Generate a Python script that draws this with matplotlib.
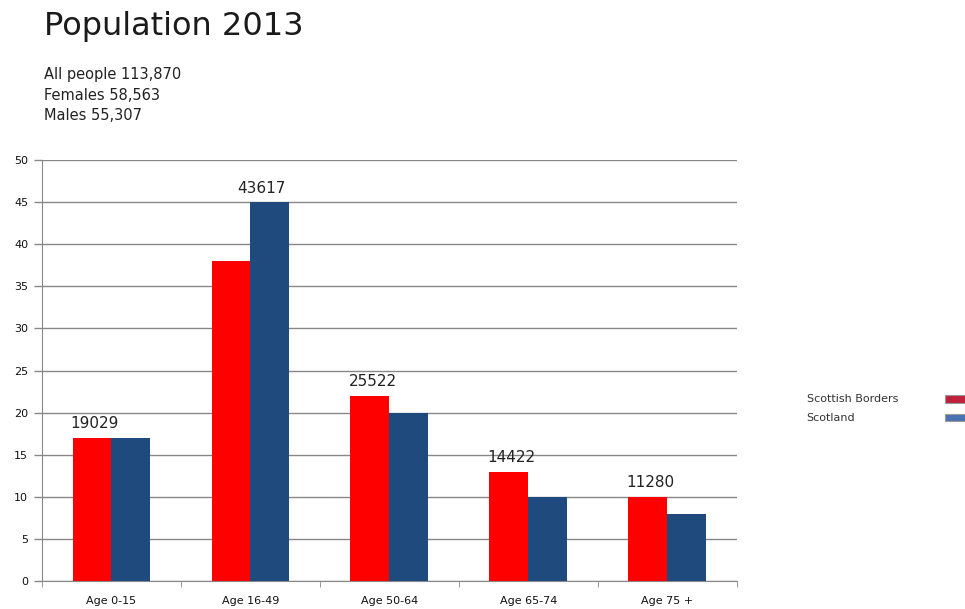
import matplotlib.pyplot as plt
from matplotlib.patches import Rectangle
import numpy as np

# population share by age band (%)
categories = ['Age 0-15', 'Age 16-49', 'Age 50-64', 'Age 65-74', 'Age 75 +']
borders_pct = [17, 38, 22, 13, 10]
scotland_pct = [17, 45, 20, 10, 8]
borders_counts = ['19029', '43617', '25522', '14422', '11280']
series_names = ['Scottish Borders', 'Scotland']
summary_lines = ['All people 113,870', 'Females 58,563', 'Males 55,307']

red = '#ff0000'
blue = '#1f4a7e'

fig = plt.figure(figsize=(9.65, 6.09), dpi=100)
ax = fig.add_axes([0.0435, 0.046, 0.72, 0.691])

x = np.arange(len(categories))
w = 0.28
ax.bar(x - w / 2, borders_pct, w, color=red, zorder=3)
ax.bar(x + w / 2, scotland_pct, w, color=blue, zorder=3)

# count labels sit above the taller bar of each group
for i, txt in enumerate(borders_counts):
    if scotland_pct[i] > borders_pct[i]:
        xpos, top = x[i] + w / 2 - 0.06, scotland_pct[i]
    else:
        xpos, top = x[i] - w / 2 + 0.02, borders_pct[i]
    ax.text(xpos, top + 0.8, txt, ha='center', va='bottom', fontsize=11,
            color='#222222')

ax.set_xlim(-0.5, len(categories) - 0.5)
ax.set_ylim(0, 50)
ax.set_yticks(np.arange(0, 51, 5))
ax.yaxis.grid(True, color='#888888', linewidth=1.0, zorder=0)
ax.set_axisbelow(True)
ax.tick_params(axis='y', labelsize=8, colors='#888888', length=6,
               direction='out', width=1, pad=4)
for lab in ax.get_yticklabels():
    lab.set_color('#111111')
ax.set_xticks(x)
ax.set_xticklabels(categories, fontsize=8, color='#111111')
ax.set_xticks(np.arange(-0.5, len(categories), 1), minor=True)
ax.tick_params(axis='x', which='major', length=0, pad=11)
ax.tick_params(axis='x', which='minor', length=4, color='#888888')
for side in ['top', 'right']:
    ax.spines[side].set_visible(False)
ax.spines['left'].set_color('#888888')
ax.spines['bottom'].set_color('#888888')

fig.text(0.046, 0.957, 'Population 2013', fontsize=23, color='#1a1a1a',
         va='center')
for k, line in enumerate(summary_lines):
    fig.text(0.046, 0.877 - k * 0.033, line, fontsize=10.5, color='#222222',
             va='center')

# legend: labels on the left, swatches at the right edge
swatch_colors = ['#c0203a', '#4a72b2']
for k, (name, col) in enumerate(zip(series_names, swatch_colors)):
    yc = 0.345 - k * 0.031
    fig.text(0.836, yc, name, fontsize=8, color='#333333', va='center')
    fig.patches.append(Rectangle((0.979, yc - 0.006), 0.03, 0.012,
                                 transform=fig.transFigure, facecolor=col,
                                 edgecolor='#999999', linewidth=0.8))

fig.savefig('out.png', dpi=100)
